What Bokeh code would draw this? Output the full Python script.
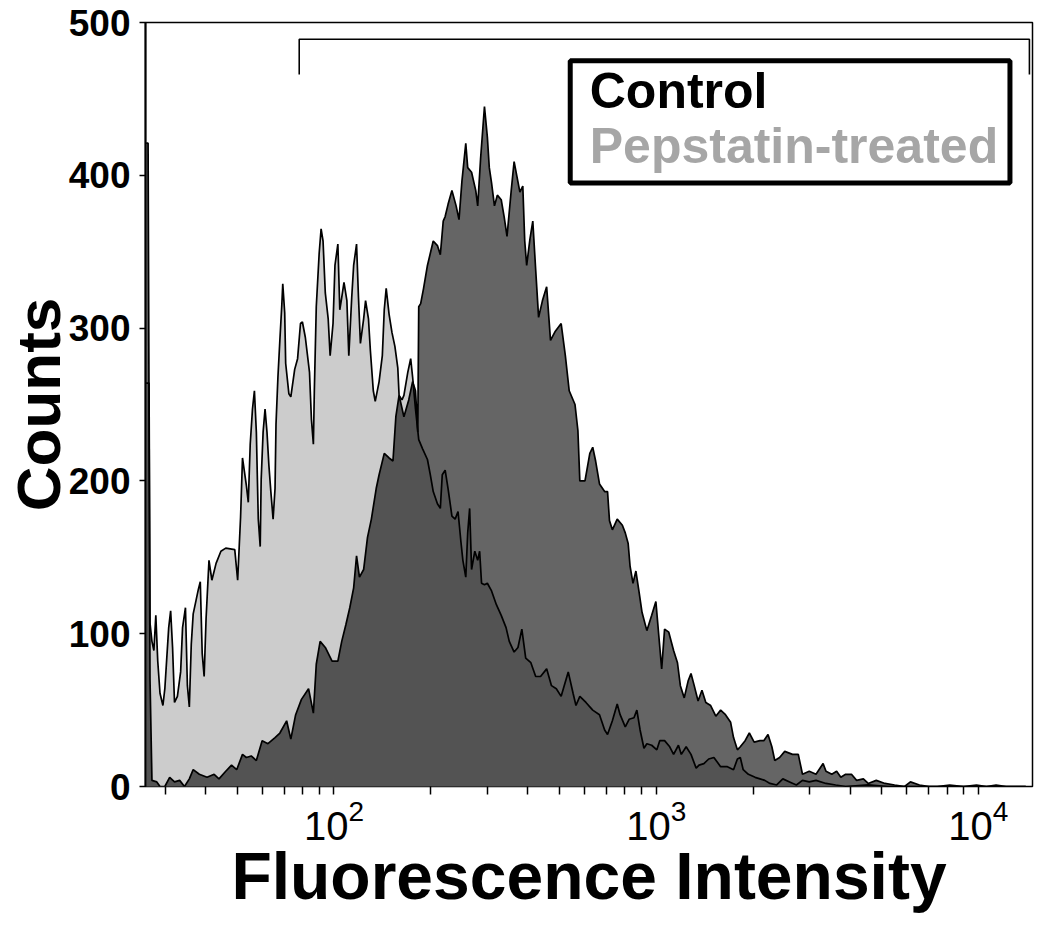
import numpy as np
from bokeh.plotting import figure
from bokeh.models import Range1d, FixedTicker, BoxAnnotation, Label
from bokeh.embed import file_html
from bokeh.resources import INLINE

# ---------------- data ----------------
# x values are stored as log10(fluorescence intensity)
pep_log_intensity = [
    1.417, 1.426, 1.429, 1.435, 1.441, 1.447, 1.453, 1.460, 1.469, 1.475,
    1.481, 1.487, 1.493, 1.499, 1.505, 1.514, 1.524, 1.530, 1.539, 1.545,
    1.551, 1.557, 1.563, 1.572, 1.579, 1.585, 1.591, 1.597, 1.603, 1.612,
    1.621, 1.634, 1.649, 1.664, 1.692, 1.701, 1.710, 1.716, 1.722, 1.728,
    1.734, 1.740, 1.747, 1.753, 1.759, 1.765, 1.771, 1.774, 1.780, 1.786,
    1.792, 1.798, 1.804, 1.811, 1.817, 1.820, 1.826, 1.832, 1.838, 1.841,
    1.847, 1.850, 1.860, 1.866, 1.878, 1.887, 1.896, 1.902, 1.911, 1.924,
    1.930, 1.936, 1.939, 1.945, 1.954, 1.960, 1.966, 1.973, 1.982, 1.988,
    1.997, 2.003, 2.012, 2.018, 2.024, 2.031, 2.040, 2.046, 2.055, 2.061,
    2.070, 2.076, 2.082, 2.092, 2.098, 2.107, 2.113, 2.122, 2.128, 2.140,
    2.150, 2.156, 2.162, 2.171, 2.180, 2.189, 2.198, 2.202, 2.211, 2.217,
    2.229, 2.238, 2.244, 2.253, 2.263, 2.275, 2.290, 2.299, 2.308, 2.321,
    2.330, 2.336, 2.345, 2.354, 2.366, 2.376, 2.385, 2.394, 2.400, 2.409,
    2.415, 2.421, 2.427, 2.437, 2.446, 2.452, 2.458, 2.467, 2.476, 2.489,
    2.504, 2.519, 2.534, 2.544, 2.559, 2.571, 2.583, 2.595, 2.611, 2.626,
    2.641, 2.660, 2.675, 2.690, 2.705, 2.727, 2.742, 2.751, 2.763, 2.782,
    2.803, 2.824, 2.840, 2.849, 2.864, 2.879, 2.888, 2.904, 2.916, 2.931,
    2.940, 2.950, 2.962, 2.971, 2.986, 3.002, 3.011, 3.026, 3.042, 3.054,
    3.069, 3.078, 3.093, 3.108, 3.124, 3.133, 3.148, 3.163, 3.179, 3.200,
    3.221, 3.240, 3.252, 3.261, 3.270, 3.286, 3.307, 3.322, 3.337, 3.353,
    3.374, 3.393, 3.414, 3.435, 3.454, 3.475, 3.496, 3.527, 3.557, 3.588,
    3.658, 3.719, 4.147,
]
pep_counts = [
    264, 264, 107, 95, 89, 112, 82, 61, 53, 64,
    84, 104, 115, 91, 55, 59, 75, 104, 117, 66,
    52, 93, 113, 122, 129, 134, 87, 72, 110, 148,
    135, 146, 154, 156, 155, 135, 176, 215, 206, 197,
    186, 224, 247, 259, 232, 175, 157, 201, 232, 247,
    232, 210, 193, 175, 195, 237, 268, 292, 315, 329,
    310, 277, 257, 255, 273, 280, 303, 304, 294, 271,
    240, 224, 259, 314, 349, 365, 357, 323, 306, 282,
    303, 341, 355, 312, 320, 330, 318, 282, 320, 341,
    355, 320, 290, 306, 318, 306, 285, 259, 252, 265,
    282, 312, 326, 309, 297, 288, 274, 256, 253, 256,
    271, 280, 268, 247, 227, 221, 214, 204, 193, 185,
    182, 204, 207, 195, 177, 175, 180, 160, 148, 137,
    166, 182, 142, 154, 148, 154, 133, 132, 133, 128,
    119, 112, 104, 95, 88, 91, 103, 84, 81, 72,
    72, 77, 66, 64, 59, 75, 61, 53, 59, 55,
    50, 47, 37, 34, 43, 54, 47, 39, 44, 45,
    50, 37, 25, 28, 27, 24, 30, 30, 26, 21,
    27, 21, 26, 21, 12, 14, 15, 18, 19, 13,
    13, 11, 18, 19, 11, 8, 6, 5, 4, 2,
    1, 5, 3, 1, 4, 3, 4, 2, 1, 0,
    1, 0, 0,
]

control_log_intensity = [
    1.417, 1.423, 1.429, 1.435, 1.450, 1.460, 1.475, 1.490, 1.505, 1.521,
    1.536, 1.551, 1.563, 1.582, 1.606, 1.628, 1.643, 1.664, 1.682, 1.698,
    1.716, 1.728, 1.743, 1.759, 1.777, 1.795, 1.817, 1.832, 1.853, 1.866,
    1.881, 1.899, 1.921, 1.936, 1.945, 1.957, 1.973, 1.994, 2.012, 2.024,
    2.037, 2.049, 2.061, 2.070, 2.079, 2.092, 2.104, 2.116, 2.131, 2.140,
    2.156, 2.171, 2.183, 2.192, 2.202, 2.217, 2.232, 2.244, 2.253, 2.260,
    2.263, 2.269, 2.278, 2.290, 2.299, 2.308, 2.321, 2.330, 2.339, 2.345,
    2.354, 2.366, 2.379, 2.388, 2.397, 2.409, 2.415, 2.427, 2.440, 2.446,
    2.455, 2.467, 2.476, 2.482, 2.489, 2.498, 2.507, 2.519, 2.528, 2.537,
    2.550, 2.559, 2.568, 2.577, 2.586, 2.592, 2.598, 2.608, 2.617, 2.626,
    2.635, 2.647, 2.660, 2.672, 2.687, 2.705, 2.718, 2.730, 2.748, 2.757,
    2.763, 2.779, 2.794, 2.803, 2.812, 2.824, 2.840, 2.849, 2.855, 2.864,
    2.879, 2.895, 2.904, 2.913, 2.919, 2.928, 2.937, 2.947, 2.956, 2.971,
    2.986, 2.999, 3.008, 3.017, 3.026, 3.039, 3.054, 3.066, 3.075, 3.087,
    3.099, 3.108, 3.118, 3.130, 3.142, 3.154, 3.169, 3.185, 3.200, 3.215,
    3.231, 3.240, 3.252, 3.261, 3.276, 3.289, 3.304, 3.322, 3.334, 3.347,
    3.359, 3.368, 3.383, 3.399, 3.423, 3.441, 3.454, 3.475, 3.496, 3.518,
    3.527, 3.545, 3.560, 3.573, 3.588, 3.606, 3.622, 3.643, 3.658, 3.683,
    3.710, 3.740, 3.771, 3.789, 3.817, 3.847, 3.872, 3.911, 3.954, 3.994,
    4.025, 4.055, 4.086, 4.147,
]
control_counts = [
    421, 421, 70, 4, 3, 0, 0, 6, 3, 4,
    0, 5, 11, 8, 6, 8, 5, 10, 14, 11,
    21, 19, 20, 17, 30, 28, 32, 35, 43, 31,
    47, 57, 64, 48, 80, 95, 91, 82, 82, 95,
    106, 117, 130, 151, 137, 142, 163, 175, 195, 204,
    218, 215, 213, 242, 256, 242, 253, 265, 259, 232,
    314, 316, 326, 341, 349, 357, 354, 348, 370, 373,
    381, 390, 380, 371, 396, 421, 405, 402, 390, 380,
    411, 445, 425, 405, 395, 380, 387, 384, 373, 360,
    390, 409, 399, 389, 393, 357, 341, 358, 370, 338,
    307, 318, 327, 292, 298, 303, 282, 259, 250, 233,
    200, 200, 218, 222, 213, 198, 193, 193, 174, 168,
    175, 171, 166, 159, 144, 133, 141, 127, 114, 102,
    112, 121, 99, 77, 103, 101, 89, 81, 66, 58,
    69, 74, 66, 56, 63, 55, 53, 46, 50, 47,
    42, 32, 24, 26, 30, 35, 29, 30, 30, 34,
    26, 17, 19, 23, 21, 21, 8, 10, 8, 15,
    10, 8, 10, 6, 8, 8, 4, 5, 2, 4,
    2, 1, 0, 3, 1, 0, 0, 1, 0, 1,
    0, 1, 0, 0,
]

# gate marker (intensity bounds and count level)
gate_intensity = [78, 78, 14400, 14400]
gate_level = [466, 489, 489, 466]

x_major_ticks = [100, 1000, 10000]
x_minor_ticks = [30, 40, 50, 60, 70, 80, 90,
                 200, 300, 400, 500, 600, 700, 800, 900,
                 2000, 3000, 4000, 5000, 6000, 7000, 8000, 9000]
y_ticks = [0, 100, 200, 300, 400, 500]

legend_labels = ["Control", "Pepstatin-treated"]
legend_colors = ["#000000", "#a6a6a6"]

# ---------------- figure ----------------
pep_x = 10 ** np.array(pep_log_intensity)
ctrl_x = 10 ** np.array(control_log_intensity)

FONT = "Liberation Sans"

p = figure(width=1034, height=915, x_axis_type="log",
           x_range=Range1d(26.0, 14720), y_range=Range1d(0, 500),
           output_backend="svg", toolbar_location=None,
           min_border_left=110, min_border_right=2,
           min_border_top=22, min_border_bottom=0)
p.xgrid.visible = False
p.ygrid.visible = False
p.outline_line_color = "black"
p.outline_line_width = 1.5
p.outline_line_alpha = 1.0
p.background_fill_color = "white"
p.border_fill_color = "white"

# fills
p.varea(x=pep_x, y1=np.zeros(len(pep_x)), y2=pep_counts, fill_color="#cccccc")
p.varea(x=ctrl_x, y1=np.zeros(len(ctrl_x)), y2=control_counts,
        fill_color="#131313", fill_alpha=0.65)
# outlines
p.line(pep_x, pep_counts, line_color="black", line_width=1.7)
p.line(ctrl_x, control_counts, line_color="black", line_width=1.7)
# gate marker
p.line(gate_intensity, gate_level, line_color="black", line_width=1.6)

# x axis
xa = p.xaxis[0]
xa.ticker = FixedTicker(ticks=x_major_ticks, minor_ticks=x_minor_ticks)
xa.axis_line_color = None
xa.major_tick_in = 0
xa.major_tick_out = 8
xa.minor_tick_in = 0
xa.minor_tick_out = 8
xa.major_tick_line_width = 1.5
xa.minor_tick_line_width = 1.5
xa.major_label_text_font = FONT
xa.major_label_text_font_size = "40px"
xa.major_label_text_font_style = "normal"
xa.major_label_text_color = "black"
xa.major_label_standoff = 4
xa.axis_label = "Fluorescence Intensity"
xa.axis_label_text_font = FONT
xa.axis_label_text_font_size = "66px"
xa.axis_label_text_font_style = "bold"
xa.axis_label_text_color = "black"
xa.axis_label_standoff = -4

# y axis
ya = p.yaxis[0]
ya.ticker = FixedTicker(ticks=y_ticks, minor_ticks=[])
ya.axis_line_color = "black"
ya.axis_line_width = 2
ya.major_tick_in = 0
ya.major_tick_out = 6
ya.major_tick_line_width = 1.5
ya.minor_tick_line_color = None
ya.major_label_text_font = FONT
ya.major_label_text_font_size = "37px"
ya.major_label_text_font_style = "bold"
ya.major_label_text_color = "black"
ya.major_label_standoff = 9
ya.axis_label = "Counts"
ya.axis_label_text_font = FONT
ya.axis_label_text_font_size = "62px"
ya.axis_label_text_font_style = "bold"
ya.axis_label_text_color = "black"
ya.axis_label_standoff = -7

# legend box with coloured texts
box = BoxAnnotation(left=541, right=12530, bottom=395, top=475,
                    fill_color="white", fill_alpha=1.0,
                    line_color="black", line_width=5, line_alpha=1.0)
p.add_layout(box)
for i, (lab, col) in enumerate(zip(legend_labels, legend_colors)):
    p.add_layout(Label(x=622, y=455 - 36 * i, text=lab, text_color=col,
                       text_font=FONT, text_font_size="50px",
                       text_font_style="bold", text_baseline="alphabetic"))

open("out.html", "w").write(file_html(p, INLINE))
